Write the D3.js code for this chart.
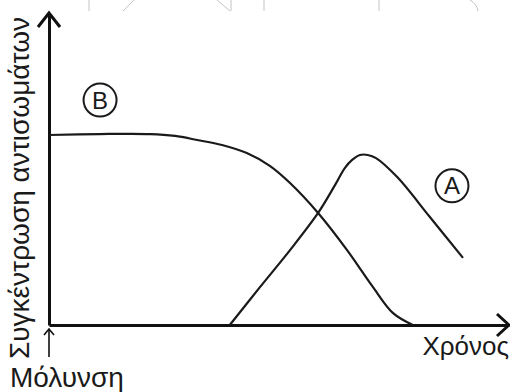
<!DOCTYPE html>
<html>
<head>
<meta charset="utf-8">
<script src="https://cdn.jsdelivr.net/npm/d3@7"></script>
<style>
  body { margin: 0; background: #fff; }
  text { font-family: "Liberation Sans", Arial, sans-serif; fill: #1a1a1a; }
</style>
</head>
<body>
<script>
const width = 510
const height = 392

// time (arbitrary units, 0..100) and antibody concentration (0..100)
const timeB = [0, 11, 22, 27.4, 32.2, 37.6, 43, 48, 52.4, 58.5, 64.8, 70.4, 74.8, 79.1]
const concB = [60.9, 61.2, 61.2, 60.6, 59.3, 57.7, 55.1, 51, 45.5, 35.9, 24, 12.2, 3.8, 0]

const timeA = [39.3, 45.9, 52.4, 58.5, 62.2, 64.3, 65.9, 67.6, 69.3, 71.1, 75.7, 82.8, 90]
const concA = [0, 12.2, 24, 35.9, 44.9, 50.3, 52.9, 54.5, 54.5, 53.5, 47.4, 34.6, 21.5]

const seriesNames = ['A', 'B']
const labelTime = [87.6, 11.1]
const labelConc = [44.6, 72.1]

const xTitle = 'Χρόνος'
const yTitle = 'Συγκέντρωση αντισωμάτων'
const startLabel = 'Μόλυνση'

const svg = d3.select('body').append('svg')
  .attr('width', width)
  .attr('height', height)

const x = d3.scaleLinear().domain([0, 100]).range([49, 509])
const y = d3.scaleLinear().domain([0, 100]).range([325, 13])

// faint bits of a watermark cut off at the top edge
svg.append('path')
  .attr('d', 'M89,0V11M123,11L134,0M217,0L230,11M231,0V11M264,0V11M379,0V11M470,0Q477,4 478,11')
  .attr('fill', 'none')
  .attr('stroke', '#c4c4c4')
  .attr('stroke-width', 1)

// axes, no ticks
svg.append('g')
  .attr('transform', `translate(0,${y(0)})`)
  .call(d3.axisBottom(x).ticks(0).tickSizeOuter(0))
svg.append('g')
  .attr('transform', `translate(${x(0)},0)`)
  .call(d3.axisLeft(y).ticks(0).tickSizeOuter(0))
svg.selectAll('.domain')
  .attr('stroke', '#111')
  .attr('stroke-width', 3)

const heads = svg.append('g')
  .attr('fill', 'none')
  .attr('stroke', '#111')
  .attr('stroke-width', 3)
heads.append('path')
  .attr('d', `M${x(0) - 11},${y(100) + 14}L${x(0)},${y(100)}L${x(0) + 11},${y(100) + 14}`)
heads.append('path')
  .attr('d', `M${x(100) - 12},${y(0) - 11}L${x(100)},${y(0)}L${x(100) - 12},${y(0) + 11}`)

// small arrow marking the infection
const inf = svg.append('g')
  .attr('fill', 'none')
  .attr('stroke', '#111')
  .attr('stroke-width', 1.6)
inf.append('path')
  .attr('d', `M${x(0)},${y(0) + 32}V${y(0) + 4}`)
inf.append('path')
  .attr('d', `M${x(0) - 5},${y(0) + 10}L${x(0)},${y(0) + 4}L${x(0) + 5},${y(0) + 10}`)

const line = d3.line()
  .x(d => x(d[0]))
  .y(d => y(d[1]))
  .curve(d3.curveCatmullRom.alpha(0.5))

const curves = [d3.zip(timeA, concA), d3.zip(timeB, concB)]

svg.selectAll('.curve')
  .data(curves)
  .join('path')
  .attr('class', 'curve')
  .attr('d', line)
  .attr('fill', 'none')
  .attr('stroke', '#1a1a1a')
  .attr('stroke-width', 2.2)

const tags = svg.selectAll('.tag')
  .data(seriesNames)
  .join('g')
  .attr('class', 'tag')
  .attr('transform', (d, i) => `translate(${x(labelTime[i])},${y(labelConc[i])})`)
tags.append('circle')
  .attr('r', 16.5)
  .attr('fill', 'none')
  .attr('stroke', '#1a1a1a')
  .attr('stroke-width', 2)
tags.append('text')
  .attr('text-anchor', 'middle')
  .attr('dy', '0.36em')
  .attr('font-size', 24)
  .text(d => d)

svg.append('text')
  .attr('x', x(100))
  .attr('y', 355)
  .attr('text-anchor', 'end')
  .attr('font-size', 26)
  .text(xTitle)

svg.append('text')
  .attr('x', 10)
  .attr('y', 387)
  .attr('font-size', 28)
  .text(startLabel)

svg.append('text')
  .attr('transform', 'translate(29,359) rotate(-90)')
  .attr('font-size', 28)
  .text(yTitle)
</script>
</body>
</html>
